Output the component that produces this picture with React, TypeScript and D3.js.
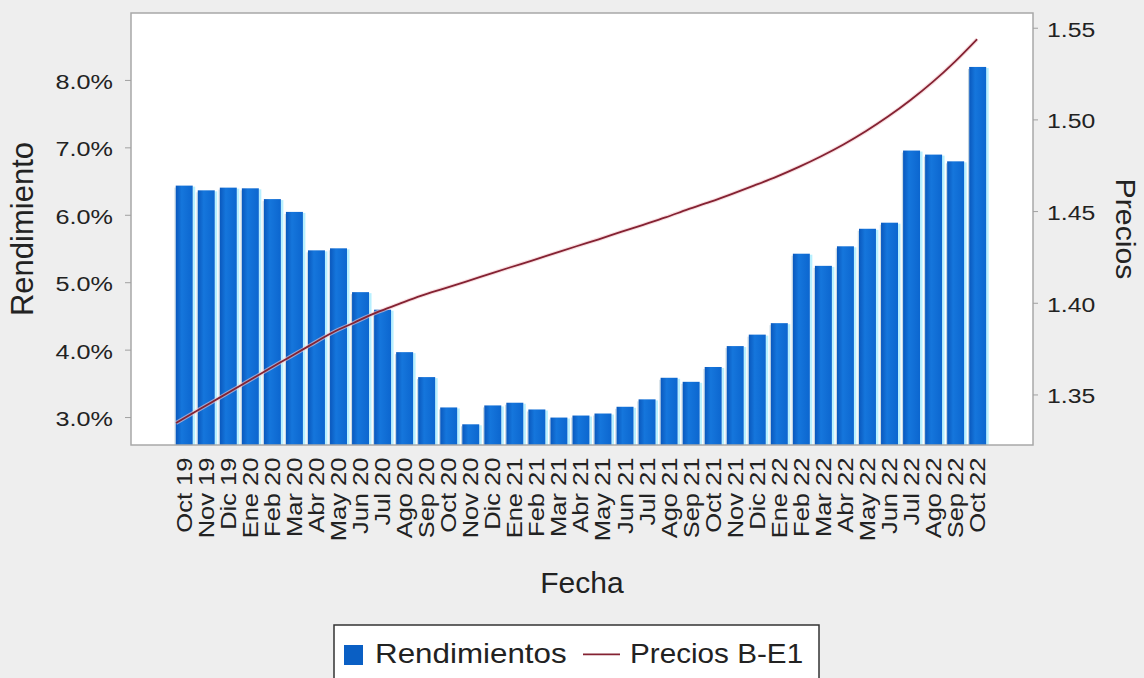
import React from "react";
import * as d3 from "d3";

const months = ["Oct 19","Nov 19","Dic 19","Ene 20","Feb 20","Mar 20","Abr 20","May 20","Jun 20","Jul 20","Ago 20","Sep 20","Oct 20","Nov 20","Dic 20","Ene 21","Feb 21","Mar 21","Abr 21","May 21","Jun 21","Jul 21","Ago 21","Sep 21","Oct 21","Nov 21","Dic 21","Ene 22","Feb 22","Mar 22","Abr 22","May 22","Jun 22","Jul 22","Ago 22","Sep 22","Oct 22"];

const rendimientos = [6.44,6.37,6.41,6.40,6.24,6.05,5.48,5.51,4.86,4.60,3.97,3.60,3.15,2.90,3.18,3.22,3.12,3.00,3.03,3.06,3.16,3.27,3.59,3.53,3.75,4.06,4.23,4.40,5.43,5.25,5.54,5.80,5.89,6.96,6.90,6.80,8.20];

const precios = [1.3347,1.3418,1.3488,1.3558,1.3629,1.3699,1.3769,1.3838,1.3894,1.3949,1.3995,1.4040,1.4079,1.4117,1.4156,1.4195,1.4233,1.4272,1.4311,1.4349,1.4389,1.4428,1.4468,1.4512,1.4553,1.4597,1.4643,1.4691,1.4744,1.4802,1.4866,1.4938,1.5018,1.5107,1.5206,1.5317,1.5440];

const leftTicks = [3, 4, 5, 6, 7, 8];
const rightTicks = [1.35, 1.40, 1.45, 1.50, 1.55];

const W = 1144, H = 678;
const PL = 131, PR = 1033, PT = 13, PB = 445;
const FONT = "'Liberation Sans', Arial, sans-serif";

export default function App() {
  const x = d3.scaleBand<string>().domain(months).range([173.2, 988.7]).paddingInner(0.23).paddingOuter(0.115);
  const xLine = d3.scalePoint<string>().domain(months).range([176, 977]);
  const yL = d3.scaleLinear().domain([2.593, 9.0]).range([PB, PT]);
  const yR = d3.scaleLinear().domain([1.3227, 1.5583]).range([PB, PT]);
  const fmtL = (v: number) => d3.format(".1f")(v) + "%";
  const fmtR = d3.format(".2f");
  const line = d3.line<number>()
    .x((_, i) => xLine(months[i]) as number)
    .y((d) => yR(d))
    .curve(d3.curveMonotoneX);
  const path = line(precios) || "";
  const bw = x.bandwidth();

  return (
    <svg width={W} height={H} style={{ position: "absolute", left: 0, top: 0, display: "block" }} fontFamily={FONT}>
      <defs>
        <linearGradient id="barGrad" x1="0" x2="1" y1="0" y2="0">
          <stop offset="0%" stopColor="#0a58bd" />
          <stop offset="35%" stopColor="#1576dc" />
          <stop offset="100%" stopColor="#0c66cf" />
        </linearGradient>
        <clipPath id="plotClip">
          <rect x={PL} y={PT} width={PR - PL} height={PB - PT} />
        </clipPath>
      </defs>
      <rect x={0} y={0} width={W} height={H} fill="#eeeeee" />
      <rect x={PL} y={PT} width={PR - PL} height={PB - PT} fill="#ffffff" />

      <g clipPath="url(#plotClip)">
        {rendimientos.map((v, i) => {
          const bx = x(months[i]) as number;
          const by = yL(v);
          return (
            <g key={months[i]}>
              <rect x={bx + bw} y={by + 1} width={2.5} height={PB - by} fill="#b8f0ff" />
              <rect x={bx - 1.2} y={by + 2} width={1} height={PB - by} fill="#9ab8c8" opacity={0.6} />
              <rect x={bx} y={by} width={bw} height={PB - by} fill="url(#barGrad)" />
            </g>
          );
        })}
        <path d={path} fill="none" stroke="#f3c6cc" strokeWidth={4} opacity={0.6} />
        <path d={path} fill="none" stroke="#842232" strokeWidth={1.8} />
      </g>

      <rect x={PL} y={PT} width={PR - PL} height={PB - PT} fill="none" stroke="#a8a8a8" strokeWidth={1.5} />

      {leftTicks.map((t) => (
        <g key={"l" + t}>
          <line x1={PL - 6} x2={PL} y1={yL(t)} y2={yL(t)} stroke="#a0a0a0" strokeWidth={1} />
          <text transform={`translate(113,${yL(t) + 8.5}) scale(1.2,1)`} textAnchor="end" fontSize={21} fill="#222">{fmtL(t)}</text>
        </g>
      ))}
      {rightTicks.map((t) => (
        <g key={"r" + t}>
          <line x1={PR} x2={PR + 5} y1={yR(t)} y2={yR(t)} stroke="#a0a0a0" strokeWidth={1} />
          <text transform={`translate(1047,${yR(t) + 8.4}) scale(1.18,1)`} textAnchor="start" fontSize={21} fill="#222">{fmtR(t)}</text>
        </g>
      ))}

      {months.map((m) => {
        const cx = (x(m) as number) + bw / 2;
        return (
          <text key={"c" + m} transform={`translate(${cx + 7.5},457.5) rotate(-90) scale(1.16,1)`} textAnchor="end" fontSize={22} fill="#222">{m}</text>
        );
      })}

      <text transform={`translate(33,229) rotate(-90)`} textAnchor="middle" fontSize={31} fill="#222">Rendimiento</text>
      <text transform={`translate(1116,229) rotate(90) scale(1.12,1)`} textAnchor="middle" fontSize={27} fill="#222">Precios</text>
      <text x={(PL + PR) / 2} y={593} textAnchor="middle" fontSize={30} fill="#222">Fecha</text>

      <rect x={334} y={625} width={485} height={58} fill="#ffffff" stroke="#333" strokeWidth={1.5} />
      <rect x={344} y={645} width={19} height={20} fill="#0a5fc4" />
      <text transform={`translate(375,663.3) scale(1.12,1)`} fontSize={28} fill="#222">Rendimientos</text>
      <line x1={583} x2={620} y1={654.3} y2={654.3} stroke="#842232" strokeWidth={1.8} />
      <text transform={`translate(630,663.3) scale(1.06,1)`} fontSize={28} fill="#222">Precios B-E1</text>
    </svg>
  );
}
